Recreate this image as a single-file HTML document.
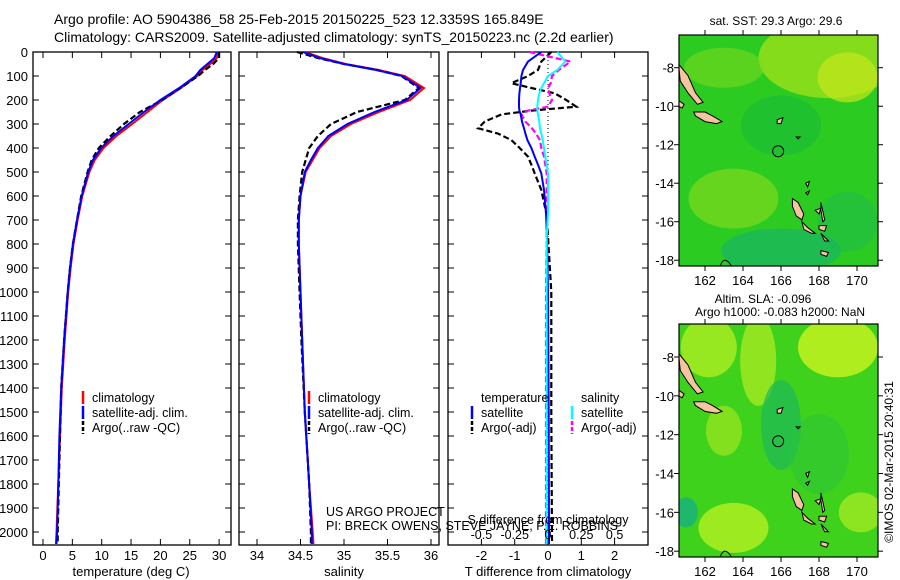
<!DOCTYPE html>
<html><head><meta charset="utf-8"><style>
body{margin:0;background:#fff;}
svg{display:block;font-family:"Liberation Sans",sans-serif;}
</style></head><body>
<svg id="fig" width="900" height="580" viewBox="0 0 900 580">
<text x="54" y="24" font-size="14">Argo profile: AO 5904386_58 25-Feb-2015 20150225_523 12.3359S 165.849E</text>
<text x="54" y="42" font-size="14">Climatology: CARS2009. Satellite-adjusted climatology: synTS_20150223.nc (2.2d earlier)</text>
<g id="maps"></g>
<g id="panels"></g>
</svg>
<script>
// ---- data ----
const depthTicks=[0,100,200,300,400,500,600,700,800,900,1000,1100,1200,1300,1400,1500,1600,1700,1800,1900,2000];
const tempTicks=[0,5,10,15,20,25,30];
const salTicks=[34,34.5,35,35.5,36];
const tdiffTicks=[-2,-1,0,1,2];
const sdiffTicks=[-0.5,-0.25,0,0.25,0.5];
const sdiffLabels=["-0.5","-0.25","0","0.25","0.5"];
const tDepth=[0,25,50,75,100,150,200,250,300,350,400,450,500,600,700,800,900,1000,1200,1400,1600,1800,2000,2050];
const tClim=[29.8,29.6,28.5,27.2,26.3,23.5,20.4,17.8,15.2,12.5,10.3,8.8,7.9,6.7,5.9,5.2,4.7,4.3,3.7,3.2,2.9,2.6,2.3,2.2];
const tSat=[29.6,29.2,28.0,26.8,26.0,23.2,20.0,17.2,14.6,12.0,9.9,8.5,7.7,6.6,5.8,5.1,4.6,4.2,3.6,3.1,2.8,2.6,2.4,2.3];
const tArgo=[30.0,30.0,29.0,27.6,26.4,23.4,20.3,16.5,13.8,11.5,9.5,8.3,7.6,6.5,5.8,5.1,4.6,4.2,3.6,3.1,2.9,2.7,2.5,2.5];
const sDepth=[0,25,50,75,100,150,200,250,300,350,400,450,500,600,700,800,1000,1200,1500,1800,2000,2050];
const sClim=[34.55,34.75,35.02,35.4,35.7,35.92,35.76,35.4,35.08,34.85,34.72,34.64,34.56,34.5,34.48,34.48,34.5,34.52,34.55,34.6,34.64,34.65];
const sSat=[34.53,34.72,35.0,35.37,35.67,35.88,35.72,35.35,35.04,34.82,34.7,34.62,34.55,34.5,34.48,34.48,34.5,34.52,34.55,34.6,34.63,34.63];
const sArgo=[34.46,34.7,35.0,35.38,35.66,35.86,35.7,35.15,34.85,34.7,34.6,34.56,34.52,34.49,34.47,34.47,34.49,34.51,34.55,34.6,34.62,34.62];
const dDepth=[0,40,75,100,130,150,172,200,228,244,260,290,318,340,367,400,436,470,506,575,672,769,1000,1500,2050];
const dTsat=[-0.2,-0.6,-0.75,-0.8,-0.82,-0.84,-0.86,-0.87,-0.87,-0.86,-0.82,-0.78,-0.72,-0.68,-0.62,-0.5,-0.4,-0.3,-0.2,-0.12,-0.06,-0.03,0.0,0.02,0.03];
const dTargo=[0.1,-0.2,-0.3,-0.6,-1.1,-0.5,0.2,0.55,0.85,-0.5,-1.4,-1.9,-2.1,-1.5,-1.1,-0.85,-0.6,-0.5,-0.4,-0.2,-0.05,0.0,0.1,0.1,0.12];
const dSsat=[0.07,0.13,0.07,0.0,-0.03,-0.05,-0.065,-0.075,-0.08,-0.08,-0.075,-0.065,-0.06,-0.05,-0.04,-0.03,-0.02,-0.01,0.0,0.0,0.0,-0.01,-0.01,-0.01,-0.01];
const dSargo=[-0.14,0.17,0.08,0.03,0.02,0.0,0.01,0.03,0.0,-0.15,-0.2,-0.17,-0.12,-0.09,-0.06,-0.05,-0.03,-0.02,-0.01,-0.01,-0.01,-0.01,-0.015,-0.015,-0.015];
const lonTicks=[162,164,166,168,170];
const latTicks=[-8,-10,-12,-14,-16,-18];
const floatPos=[165.85,-12.34];

const NS="http://www.w3.org/2000/svg";
function mk(tag,attrs,parent,txt){const e=document.createElementNS(NS,tag);for(const k in attrs)e.setAttribute(k,attrs[k]);if(txt!==undefined)e.textContent=txt;parent.appendChild(e);return e;}
const panels=document.getElementById('panels');
const Y0=52,Y1=545;
const yD=d=>Y0+d*0.24;
function line(g,xs,ys,xf,color,w,dash,name){
  const pts=xs.map((v,i)=>xf(v).toFixed(1)+","+yD(ys[i]).toFixed(1)).join(" ");
  const p=mk('polyline',{points:pts,fill:'none',stroke:color,'stroke-width':w},g);
  if(dash)p.setAttribute('stroke-dasharray',dash);
  
  
}
function frame(g,x0,x1,name){
  const r=mk('rect',{x:x0,y:Y0,width:x1-x0,height:Y1-Y0,fill:'none',stroke:'#000','stroke-width':1.3},g);
  
  
  depthTicks.forEach(d=>{mk('line',{x1:x0,x2:x0+6,y1:yD(d),y2:yD(d),stroke:'#000'},g);mk('line',{x1:x1,x2:x1-6,y1:yD(d),y2:yD(d),stroke:'#000'},g);});
}
function xticks(g,ticks,labels,xf,title,name){
  ticks.forEach((t,i)=>{const x=xf(t);mk('line',{x1:x,x2:x,y1:Y0,y2:Y0+6,stroke:'#000'},g);mk('line',{x1:x,x2:x,y1:Y1,y2:Y1-6,stroke:'#000'},g);
    const tl=mk('text',{x:x,y:560,'font-size':13,'text-anchor':'middle'},g,labels[i]);
    
    });
  const tt=mk('text',{x:(xf(ticks[0])+xf(ticks[ticks.length-1]))/2,y:576,'font-size':13,'text-anchor':'middle'},g,title);
  
  
}
function legend(g,x,y,items){
  items.forEach((it,i)=>{const yy=y+i*15;
    if(it.c)mk('line',{x1:x,x2:x,y1:yy-11,y2:yy+2,stroke:it.c,'stroke-width':2.5,'stroke-dasharray':it.d||''},g);
    const t=mk('text',{x:x+9,y:yy,'font-size':12.5},g,it.t);
    
    });
}
// panel 1
const g1=mk('g',{},panels);
const xT=t=>43+5.87*t;
frame(g1,33,231,'temperature-plot-frame');
depthTicks.forEach(d=>{const t=mk('text',{x:28,y:yD(d)+5,'font-size':13,'text-anchor':'end'},g1,String(d));});
xticks(g1,tempTicks,tempTicks.map(String),xT,'temperature (deg C)','temperature-axis-title');
line(g1,tClim,tDepth,xT,'#f00',2,null,'temperature-climatology-line');
line(g1,tArgo,tDepth,xT,'#000',2.2,'6,3','temperature-argo-line');
line(g1,tSat,tDepth,xT,'#00f',2,null,'temperature-satellite-line');
legend(g1,83,402,[{c:'#f00',t:'climatology'},{c:'#00f',t:'satellite-adj. clim.'},{c:'#000',d:'4,2',t:'Argo(..raw -QC)'}]);
// panel 2
const g2=mk('g',{},panels);
const xS=s=>257+87*(s-34);
frame(g2,239,439,'salinity-plot-frame');
xticks(g2,salTicks,salTicks.map(String),xS,'salinity','salinity-axis-title');
line(g2,sClim,sDepth,xS,'#f00',2,null,'salinity-climatology-line');
line(g2,sArgo,sDepth,xS,'#000',2.2,'6,3','salinity-argo-line');
line(g2,sSat,sDepth,xS,'#00f',2,null,'salinity-satellite-line');
legend(g2,309,402,[{c:'#f00',t:'climatology'},{c:'#00f',t:'satellite-adj. clim.'},{c:'#000',d:'4,2',t:'Argo(..raw -QC)'}]);
mk('text',{x:326,y:516,'font-size':12.5},g2,'US ARGO PROJECT');
// panel 3
const g3=mk('g',{},panels);
const xDT=t=>548+33.3*t;
const xDS=s=>548+133.2*s;
frame(g3,448,648,'difference-plot-frame');
xticks(g3,tdiffTicks,tdiffTicks.map(String),xDT,'T difference from climatology','tdiff-axis-title');
mk('line',{x1:548,x2:548,y1:Y0,y2:Y1,stroke:'#000','stroke-dasharray':'1,3'},g3);
line(g3,dTargo,dDepth,xDT,'#000',2.2,'6,3','tdiff-argo-line');
line(g3,dSargo,dDepth,xDS,'#f0f',2.2,'6,3','sdiff-argo-line');
line(g3,dTsat,dDepth,xDT,'#00f',2,null,'tdiff-satellite-line');
line(g3,dSsat,dDepth,xDS,'#0ff',2,null,'sdiff-satellite-line');
legend(g3,472,402,[{t:'temperature'},{c:'#00f',t:'satellite'},{c:'#000',d:'4,2',t:'Argo(-adj)'}]);
legend(g3,572,402,[{t:'salinity'},{c:'#0ff',t:'satellite'},{c:'#f0f',d:'4,2',t:'Argo(-adj)'}]);
sdiffTicks.forEach((s,i)=>{const t=mk('text',{x:xDS(s),y:539,'font-size':12.5,'text-anchor':'middle'},g3,sdiffLabels[i]);});
const st=mk('text',{x:548,y:524,'font-size':12.5,'text-anchor':'middle'},g3,'S difference from climatology');

mk('text',{x:326,y:530,'font-size':12.5},g2,'PI: BRECK OWENS, STEVE JAYNE, P.E. ROBBINS');

// ---- maps ----
const maps=document.getElementById('maps');
const islands=[
 [[160.6,-7.8],[161.1,-8.4],[161.5,-9.3],[161.9,-9.8],[161.6,-9.9],[161.1,-9.3],[160.7,-8.7]],
 [[160.6,-9.7],[160.9,-9.9],[160.8,-10.1],[160.6,-10.0]],
 [[161.4,-10.3],[162.0,-10.3],[162.4,-10.5],[162.9,-10.8],[162.6,-10.9],[162.0,-10.8],[161.5,-10.5]],
 [[165.8,-10.7],[166.1,-10.6],[166.0,-10.9],[165.8,-10.9]],
 [[166.8,-11.6],[167.0,-11.6],[166.9,-11.7]],
 [[167.3,-14.0],[167.5,-13.9],[167.4,-14.2]],
 [[167.3,-14.5],[167.5,-14.4],[167.4,-14.6]],
 [[166.6,-14.8],[166.9,-15.0],[167.2,-15.6],[167.1,-15.9],[166.8,-15.7],[166.6,-15.2]],
 [[167.1,-16.0],[167.4,-16.3],[167.8,-16.6],[167.6,-16.6],[167.2,-16.4]],
 [[167.8,-15.4],[168.1,-15.3],[168.0,-15.6]],
 [[168.1,-15.0],[168.3,-15.9],[168.2,-16.0],[168.1,-15.4]],
 [[168.0,-16.2],[168.4,-16.2],[168.3,-16.5],[168.0,-16.4]],
 [[168.1,-16.6],[168.3,-16.8],[168.5,-17.0],[168.3,-17.0]],
 [[168.1,-17.5],[168.5,-17.6],[168.4,-17.8],[168.1,-17.7]]
];
function drawMap(top,bottom,name,bgParts){
  const x0=679,x1=878;
  const lon=l=>705+(l-162)*19;
  const lat0=top+(-8-(-6.35))*0; // not used
  const yLat=la=>top+( -6.3 - la)*((bottom-top)/12.0);
  const g=mk('g',{},maps);
  const cid='clip'+name;
  const cp=mk('clipPath',{id:cid},g);mk('rect',{x:x0,y:top,width:x1-x0,height:bottom-top},cp);
  const inner=mk('g',{'clip-path':'url(#'+cid+')'},g);
  mk('rect',{x:x0,y:top,width:x1-x0,height:bottom-top,fill:bgParts.base},inner);
  bgParts.blobs.forEach(b=>mk('ellipse',{cx:lon(b[0]),cy:yLat(b[1]),rx:b[2],ry:b[3],fill:b[4],opacity:b[5]},inner));
  islands.forEach(poly=>{const p=mk('polygon',{points:poly.map(q=>lon(q[0]).toFixed(1)+","+yLat(q[1]).toFixed(1)).join(" "),fill:'#f6c49e',stroke:'#000','stroke-width':1},inner);});
  mk('path',{d:`M${lon(162.8)} ${bottom} Q${lon(163)} ${yLat(-17.7)} ${lon(163.4)} ${bottom}`,fill:'none',stroke:'#000'},inner);
  const c=mk('circle',{cx:lon(floatPos[0]),cy:yLat(floatPos[1]),r:5.5,fill:'none',stroke:'#000','stroke-width':1},inner);
  
  mk('rect',{x:x0,y:top,width:x1-x0,height:bottom-top,fill:'none',stroke:'#000','stroke-width':1.2},g);
  lonTicks.forEach(l=>{mk('line',{x1:lon(l),x2:lon(l),y1:top,y2:top-5,stroke:'#000'},g);mk('line',{x1:lon(l),x2:lon(l),y1:bottom,y2:bottom+5,stroke:'#000'},g);
    const t=mk('text',{x:lon(l),y:bottom+19,'font-size':13,'text-anchor':'middle'},g,String(l));});
  latTicks.forEach(la=>{mk('line',{x1:x0,x2:x0-5,y1:yLat(la),y2:yLat(la),stroke:'#000'},g);mk('line',{x1:x1,x2:x1+5,y1:yLat(la),y2:yLat(la),stroke:'#000'},g);
    const t=mk('text',{x:674,y:yLat(la)+5,'font-size':13,'text-anchor':'end'},g,String(la));});
}
drawMap(35,266,'sst-map',{base:'#2ccb22',blobs:[
 [168.5,-7.5,70,40,'#9be01a',0.8],[169.5,-8.5,30,25,'#c8e61a',0.7],[163,-8,40,20,'#7ad81e',0.6],
 [163.5,-14.8,45,30,'#8ddc1c',0.6],[166,-11,40,30,'#14b83a',0.5],[166,-17.5,60,22,'#14b070',0.6],[169.5,-16,30,30,'#18b45a',0.4]]});
drawMap(324,557,'sla-map',{base:'#3fd21c',blobs:[
 [162.2,-7.5,28,30,'#a2ea22',0.9],[164.8,-8.2,18,45,'#a6ea22',0.8],[169,-7.5,40,30,'#bdef20',0.9],
 [163,-11.8,18,25,'#94e420',0.8],[166,-11.5,20,45,'#1cb85a',0.7],[161,-16,12,15,'#18b080',0.8],
 [163.5,-16.8,35,25,'#a8ec22',0.9],[170.2,-16,22,20,'#a0ea22',0.8],[168,-13,30,40,'#2cc23c',0.5]]});
const mt1=mk('text',{x:776,y:25,'font-size':12,'text-anchor':'middle'},maps,'sat. SST: 29.3 Argo: 29.6');

const mt2=mk('text',{x:763,y:303,'font-size':12,'text-anchor':'middle'},maps,'Altim. SLA: -0.096');

const mt3=mk('text',{x:780,y:316,'font-size':12,'text-anchor':'middle'},maps,'Argo h1000: -0.083 h2000: NaN');

const cr=mk('text',{x:0,y:0,'font-size':12,'text-anchor':'middle',transform:'translate(893,462) rotate(-90)'},maps,'©IMOS 02-Mar-2015 20:40:31');

</script>
</body></html>
